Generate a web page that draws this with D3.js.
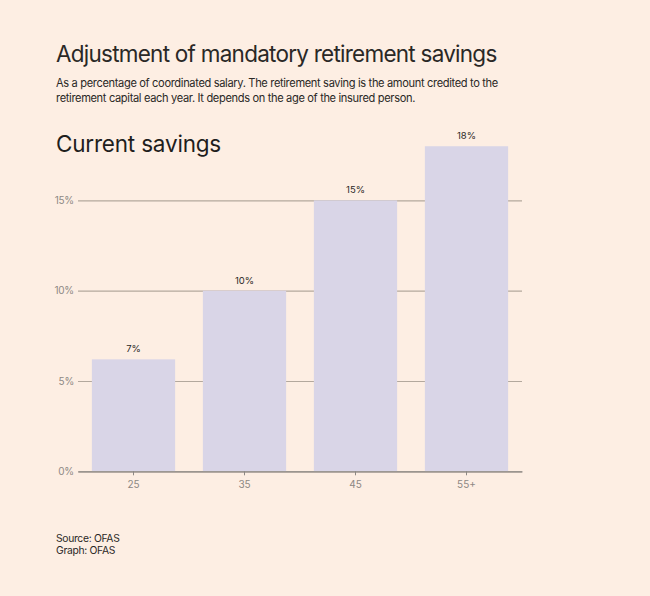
<!DOCTYPE html>
<html><head><meta charset="utf-8">
<script src="https://cdn.jsdelivr.net/npm/d3@7"></script>
<style>
html,body{margin:0;padding:0;background:#fdeee3;}
svg{display:block;font-family:Inter, "Noto Sans", sans-serif;}
</style></head>
<body><svg id="c" width="650" height="596"></svg>
<script>
const categories = ["25","35","45","55+"];
const values = [6.2,10,15,18];
const valueLabels = ["7%","10%","15%","18%"];
const yTicks = [0,5,10,15];

const svg = d3.select("#c");
svg.append("rect").attr("width",650).attr("height",596).attr("fill","#fdeee3");

svg.append("text").attr("x",56).attr("y",62).attr("font-size",22.5).attr("letter-spacing","-0.75px").attr("fill","#2a2826").text("Adjustment of mandatory retirement savings");
svg.append("text").attr("x",56).attr("y",87).attr("font-size",11.1).attr("letter-spacing","-0.35px").attr("fill","#2a2826").text("As a percentage of coordinated salary. The retirement saving is the amount credited to the");
svg.append("text").attr("x",56).attr("y",102).attr("font-size",11.1).attr("letter-spacing","-0.35px").attr("fill","#2a2826").text("retirement capital each year. It depends on the age of the insured person.");
svg.append("text").attr("x",56).attr("y",152).attr("font-size",22.5).attr("letter-spacing","-0.2px").attr("fill","#1f1e1d").text("Current savings");

const x = d3.scaleBand().domain(categories).range([78,522]).paddingInner(0.25).paddingOuter(0.125);
const y = d3.scaleLinear().domain([0,15]).range([471.3,200.4]);

const g = svg.append("g");
const yAxis = d3.axisLeft(y).tickValues(yTicks).tickFormat(d=>d+"%").tickSize(-444).tickPadding(4);
const ya = g.append("g").attr("transform","translate(78,0)").call(yAxis);
ya.select(".domain").remove();
ya.selectAll(".tick line").attr("stroke","#b3a89d").attr("stroke-width",1.2);
ya.selectAll(".tick text").attr("fill","#8d8884").attr("font-size",10).attr("letter-spacing","-0.2px").attr("font-family","Inter, sans-serif");

g.selectAll("rect.bar").data(categories).join("rect").attr("class","bar")
  .attr("x",d=>x(d)).attr("width",x.bandwidth())
  .attr("y",(d,i)=>y(values[i])).attr("height",(d,i)=>y(0)-y(values[i]))
  .attr("fill","#d9d5e7");

g.selectAll("text.val").data(categories).join("text").attr("class","val")
  .attr("x",d=>x(d)+x.bandwidth()/2).attr("y",(d,i)=>y(values[i])-7)
  .attr("text-anchor","middle").attr("font-size",9.5).attr("fill","#2a2826")
  .text((d,i)=>valueLabels[i]);

const xAxis = d3.axisBottom(x).tickSize(4).tickPadding(6).tickSizeOuter(0);
const xa = g.append("g").attr("transform",`translate(0,${y(0)})`).call(xAxis);
xa.select(".domain").attr("stroke","#8d8884").attr("stroke-width",1.2);
xa.selectAll(".tick line").attr("stroke","#8d8884");
xa.selectAll(".tick text").attr("fill","#8d8884").attr("font-size",10).attr("font-family","Inter, sans-serif");

svg.append("text").attr("x",56).attr("y",542).attr("font-size",10.3).attr("letter-spacing","-0.3px").attr("fill","#2a2826").text("Source: OFAS");
svg.append("text").attr("x",56).attr("y",554).attr("font-size",10.3).attr("letter-spacing","-0.3px").attr("fill","#2a2826").text("Graph: OFAS");
</script></body></html>
